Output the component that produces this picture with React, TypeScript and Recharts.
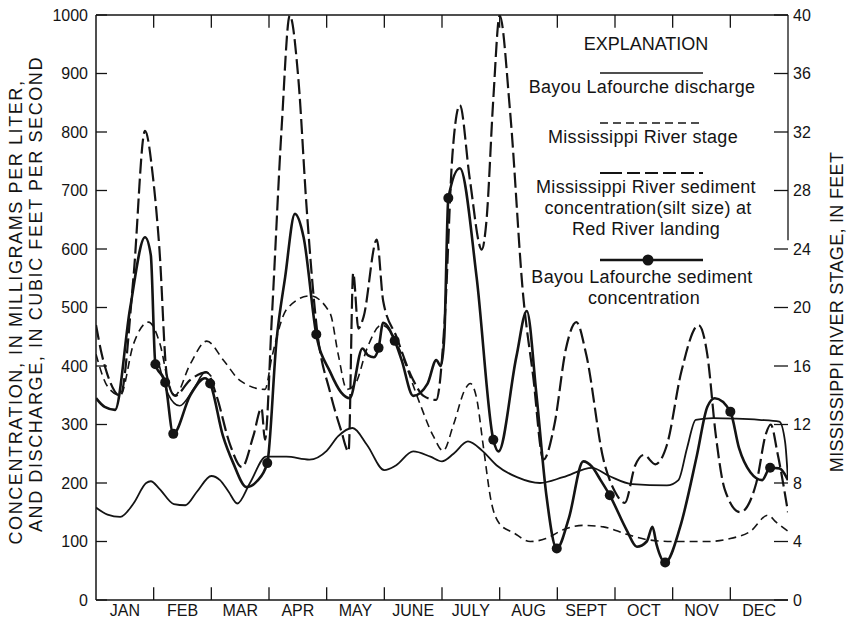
import React from 'react';
import {
  ComposedChart,
  Line,
  XAxis,
  YAxis,
  ReferenceLine,
  Customized,
} from 'recharts';

// Month labels along the bottom axis
const monthLabels = ['JAN', 'FEB', 'MAR', 'APR', 'MAY', 'JUNE', 'JULY', 'AUG', 'SEPT', 'OCT', 'NOV', 'DEC'];
const leftTicks = [0, 100, 200, 300, 400, 500, 600, 700, 800, 900, 1000];
const rightTicks = [0, 4, 8, 12, 16, 20, 24, 28, 32, 36, 40];

// Bayou Lafourche discharge, cubic feet per second (x = months from Jan 1)
const dischargeMonths = [0, 0.2, 0.42, 0.65, 0.87, 0.95, 1.1, 1.35, 1.55, 1.75, 2.0, 2.15, 2.3, 2.45, 2.67, 2.95, 3.3, 3.7, 4.0, 4.2, 4.45, 4.7, 5.0, 5.2, 5.5, 5.8, 6.0, 6.2, 6.45, 6.7, 6.95, 7.3, 7.7, 8.1, 8.6, 8.9, 9.3, 9.9, 10.1, 10.25, 10.4, 10.7, 11.1, 11.5, 11.85, 11.95, 12];
const dischargeValues = [158, 146, 142, 165, 200, 203, 190, 164, 162, 185, 212, 205, 185, 165, 200, 245, 245, 240, 255, 280, 294, 265, 222, 230, 254, 245, 237, 250, 271, 255, 230, 210, 200, 210, 226, 212, 198, 196, 205, 260, 308, 311, 310, 308, 305, 270, 205];

// Mississippi River stage, feet
const stageMonths = [0, 0.2, 0.42, 0.65, 0.91, 1.11, 1.28, 1.37, 1.63, 1.92, 2.21, 2.5, 2.93, 3.05, 3.31, 3.71, 4.06, 4.2, 4.35, 4.5, 4.7, 4.95, 5.1, 5.3, 5.6, 5.85, 6.02, 6.2, 6.4, 6.49, 6.6, 6.72, 6.85, 7.0, 7.24, 7.53, 7.8, 8.1, 8.45, 8.8, 9.2, 9.6, 10.0, 10.6, 11.0, 11.35, 11.65, 11.8, 12];
const stageFeet = [16.8, 14.6, 14.0, 17.5, 19.0, 17.5, 14.5, 14.0, 16.1, 17.7, 16.4, 15.0, 14.4, 16.6, 19.9, 20.8, 19.6, 16.8, 14.4, 14.8, 17.2, 18.8, 18.4, 16.8, 13.6, 11.2, 10.2, 12.0, 14.4, 14.8, 13.8, 10.4, 6.8, 5.2, 4.6, 4.0, 4.2, 4.8, 5.1, 5.0, 4.5, 4.1, 4.0, 4.0, 4.2, 4.7, 5.8, 5.3, 4.7];

// Mississippi River sediment concentration (silt size) at Red River landing, mg/L
const riverSedimentMonths = [0, 0.1, 0.2, 0.42, 0.65, 0.85, 0.99, 1.1, 1.23, 1.37, 1.63, 1.92, 2.09, 2.32, 2.53, 2.73, 2.87, 2.93, 3.05, 3.22, 3.36, 3.51, 3.65, 3.83, 4.06, 4.25, 4.38, 4.46, 4.55, 4.64, 4.87, 4.98, 5.21, 5.5, 5.68, 5.9, 6.05, 6.18, 6.31, 6.48, 6.69, 6.77, 6.89, 7.0, 7.18, 7.41, 7.58, 7.76, 7.95, 8.15, 8.33, 8.5, 8.8, 9.0, 9.17, 9.35, 9.5, 9.7, 9.9, 10.15, 10.45, 10.6, 10.75, 10.9, 11.17, 11.45, 11.62, 11.7, 11.82, 12];
const riverSedimentValues = [470, 420, 385, 349, 552, 802, 721, 600, 383, 349, 376, 389, 349, 267, 227, 281, 328, 274, 484, 809, 999, 890, 674, 464, 355, 290, 254, 559, 464, 484, 616, 511, 450, 376, 349, 342, 484, 760, 846, 721, 599, 647, 857, 999, 836, 518, 383, 240, 300, 430, 475, 420, 240, 185, 166, 230, 248, 232, 265, 390, 470, 420, 280, 190, 150, 200, 285, 300, 250, 150];

// Bayou Lafourche sediment concentration, mg/L; sampled = measured point
const bayouSedimentMonths = [0, 0.15, 0.33, 0.59, 0.85, 0.95, 1.03, 1.2, 1.34, 1.63, 1.89, 1.98, 2.2, 2.38, 2.61, 2.79, 2.97, 3.13, 3.28, 3.45, 3.6, 3.82, 4.06, 4.25, 4.4, 4.62, 4.72, 4.82, 4.9, 4.98, 5.18, 5.3, 5.5, 5.75, 5.9, 5.98, 6.04, 6.11, 6.31, 6.6, 6.89, 6.98, 7.29, 7.47, 7.64, 7.81, 7.99, 8.2, 8.45, 8.6, 8.75, 8.91, 9.2, 9.38, 9.55, 9.65, 9.72, 9.87, 10.13, 10.42, 10.6, 10.73, 11.0, 11.15, 11.35, 11.55, 11.69, 11.85, 12];
const bayouSedimentValues = [345, 330, 325, 498, 620, 590, 403, 372, 284, 349, 379, 370, 281, 234, 193, 203, 234, 443, 552, 660, 620, 454, 390, 355, 345, 430, 418, 415, 431, 474, 443, 410, 349, 370, 410, 400, 450, 687, 738, 552, 274, 254, 416, 494, 349, 179, 88, 140, 237, 228, 205, 179, 120, 91, 100, 125, 95, 64, 125, 247, 330, 345, 322, 260, 218, 205, 226, 225, 205];
const bayouSampled = [1.03, 1.2, 1.34, 1.98, 2.97, 3.82, 4.9, 5.18, 6.11, 6.89, 7.99, 8.91, 9.87, 11.0, 11.69];

// Secondary trace through February
const febTraceMonths = [1.1, 1.25, 1.45, 1.7, 1.9, 2.0];
const febTraceValues = [400, 352, 332, 362, 390, 382];

type Pt = { m: number; v: number; s?: boolean };
const zip = (ms: number[], vs: number[]): Pt[] => ms.map((m, i) => ({ m, v: vs[i] }));

const dischargeData = zip(dischargeMonths, dischargeValues);
const stageData = zip(stageMonths, stageFeet);
const riverSedimentData = zip(riverSedimentMonths, riverSedimentValues);
const bayouSedimentData: Pt[] = zip(bayouSedimentMonths, bayouSedimentValues).map((p) => ({
  ...p,
  s: bayouSampled.includes(p.m),
}));
const febTraceData = zip(febTraceMonths, febTraceValues);

const monthCenters = monthLabels.map((_, i) => i + 0.5);
const monthBounds = monthLabels.slice(1).map((_, i) => i + 1);

const FONT = "'Liberation Sans', Arial, Helvetica, sans-serif";
const INK = '#141414';

const SampleDot = (props: any) => {
  const { cx, cy, payload, index } = props;
  if (!payload || !payload.s) return <g key={`d${index}`} />;
  return <circle key={`d${index}`} cx={cx} cy={cy} r={5} fill={INK} />;
};

const Explanation = () => {
  const cx = 646;
  const textStyle = { fontFamily: FONT, fontSize: 18, fill: INK, letterSpacing: 0.3 } as const;
  return (
    <g>
      {/* axis titles */}
      <text
        transform="translate(22,312) rotate(-90)"
        textAnchor="middle"
        style={{ fontFamily: FONT, fontSize: 18, fill: INK, letterSpacing: 1.6 }}
      >
        CONCENTRATION, IN MILLIGRAMS PER LITER,
      </text>
      <text
        transform="translate(42,294) rotate(-90)"
        textAnchor="middle"
        style={{ fontFamily: FONT, fontSize: 18, fill: INK, letterSpacing: 1.6 }}
      >
        AND DISCHARGE, IN CUBIC FEET PER SECOND
      </text>
      <text
        transform="translate(843,312) rotate(-90)"
        textAnchor="middle"
        style={{ fontFamily: FONT, fontSize: 18, fill: INK, letterSpacing: 0.3 }}
      >
        MISSISSIPPI RIVER STAGE, IN FEET
      </text>

      {/* explanation block */}
      <text x={cx} y={50} textAnchor="middle" style={{ ...textStyle, letterSpacing: 0 }}>EXPLANATION</text>

      <line x1={600} x2={703} y1={73} y2={73} stroke={INK} strokeWidth={1.6} />
      <text x={cx - 4} y={93} textAnchor="middle" style={textStyle}>Bayou Lafourche discharge</text>

      <line x1={600} x2={703} y1={123} y2={123} stroke={INK} strokeWidth={1.6} strokeDasharray="8 5" />
      <text x={cx - 3} y={143} textAnchor="middle" style={textStyle}>Mississippi River stage</text>

      <line x1={600} x2={703} y1={173} y2={173} stroke={INK} strokeWidth={2.2} strokeDasharray="22 5 13 5 13 5 13 5 13 5" />
      <text x={cx} y={193} textAnchor="middle" style={textStyle}>Mississippi River sediment</text>
      <text x={cx + 2} y={214} textAnchor="middle" style={textStyle}>concentration(silt size) at</text>
      <text x={cx} y={235} textAnchor="middle" style={textStyle}>Red River landing</text>

      <line x1={600} x2={703} y1={260} y2={260} stroke={INK} strokeWidth={2.6} />
      <circle cx={648} cy={260} r={5.5} fill={INK} />
      <text x={cx - 4} y={283} textAnchor="middle" style={textStyle}>Bayou Lafourche sediment</text>
      <text x={cx - 2} y={304} textAnchor="middle" style={textStyle}>concentration</text>
    </g>
  );
};

export default function App() {
  const tickStyle = { fill: INK, fontSize: 16, fontFamily: FONT };
  return (
    <div style={{ position: 'absolute', left: 0, top: 0, width: 851, height: 628, background: '#fff' }}>
      <ComposedChart width={851} height={628} margin={{ top: 15, right: 8, bottom: 0, left: 0 }}>
        <XAxis
          xAxisId="x"
          type="number"
          dataKey="m"
          domain={[0, 12]}
          ticks={monthCenters}
          tickFormatter={(v: number) => monthLabels[Math.floor(v)]}
          tickLine={false}
          axisLine={{ stroke: INK, strokeWidth: 1.5 }}
          tick={{ ...tickStyle, fontSize: 16 }}
          tickSize={0}
          tickMargin={5}
          height={28}
          allowDataOverflow
          interval={0}
        />
        <YAxis
          yAxisId="left"
          domain={[0, 1000]}
          ticks={leftTicks}
          width={96}
          tickSize={-11}
          tickMargin={19}
          tickLine={{ stroke: INK, strokeWidth: 1.3 }}
          axisLine={{ stroke: INK, strokeWidth: 1.5 }}
          tick={tickStyle}
          interval={0}
          allowDataOverflow
        />
        <YAxis
          yAxisId="right"
          orientation="right"
          domain={[0, 40]}
          ticks={rightTicks}
          width={55}
          tickSize={-14}
          tickMargin={19}
          tickLine={{ stroke: INK, strokeWidth: 1.3 }}
          axisLine={false}
          tick={tickStyle}
          interval={0}
          allowDataOverflow
        />

        {/* frame: top border, partial right border and month ticks */}
        <ReferenceLine xAxisId="x" yAxisId="left" y={1000} stroke={INK} strokeWidth={1.5} />
        <ReferenceLine
          xAxisId="x"
          yAxisId="right"
          segment={[{ x: 12, y: 40 }, { x: 12, y: 24.6 }]}
          stroke={INK}
          strokeWidth={1.3}
        />
        {monthBounds.map((k) => (
          <ReferenceLine
            key={`b${k}`}
            xAxisId="x"
            yAxisId="left"
            segment={[{ x: k, y: 0 }, { x: k, y: 22 }]}
            stroke={INK}
            strokeWidth={1.3}
          />
        ))}
        {monthBounds.map((k) => (
          <ReferenceLine
            key={`t${k}`}
            xAxisId="x"
            yAxisId="left"
            segment={[{ x: k, y: 1000 }, { x: k, y: 978 }]}
            stroke={INK}
            strokeWidth={1.3}
          />
        ))}

        <Line
          xAxisId="x"
          yAxisId="left"
          data={dischargeData}
          dataKey="v"
          type="monotone"
          stroke={INK}
          strokeWidth={1.8}
          dot={false}
          isAnimationActive={false}
        />
        <Line
          xAxisId="x"
          yAxisId="right"
          data={stageData}
          dataKey="v"
          type="monotone"
          stroke={INK}
          strokeWidth={1.6}
          strokeDasharray="8 5"
          dot={false}
          isAnimationActive={false}
        />
        <Line
          xAxisId="x"
          yAxisId="left"
          data={riverSedimentData}
          dataKey="v"
          type="monotone"
          stroke={INK}
          strokeWidth={2.2}
          strokeDasharray="15 5"
          dot={false}
          isAnimationActive={false}
        />
        <Line
          xAxisId="x"
          yAxisId="left"
          data={febTraceData}
          dataKey="v"
          type="monotone"
          stroke={INK}
          strokeWidth={1.6}
          dot={false}
          isAnimationActive={false}
        />
        <Line
          xAxisId="x"
          yAxisId="left"
          data={bayouSedimentData}
          dataKey="v"
          type="monotone"
          stroke={INK}
          strokeWidth={2.6}
          dot={<SampleDot />}
          activeDot={false}
          isAnimationActive={false}
        />

        <Customized component={<Explanation />} />
      </ComposedChart>
    </div>
  );
}
